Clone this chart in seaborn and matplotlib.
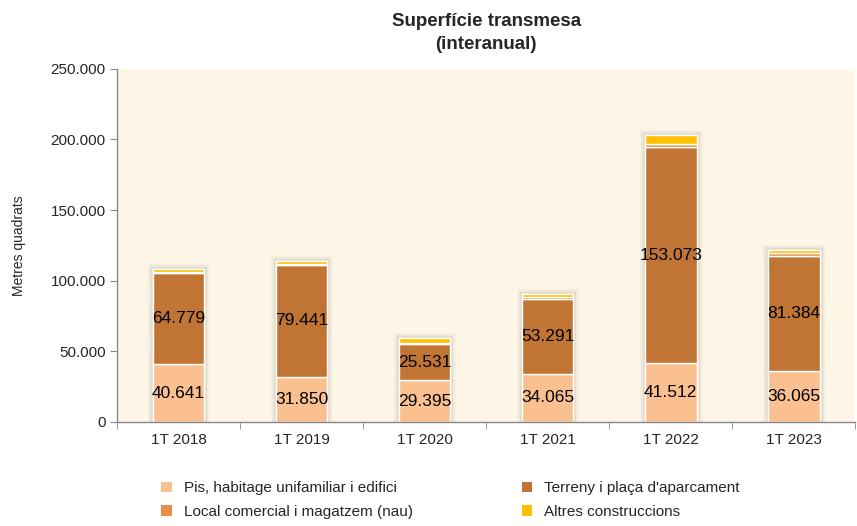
import numpy as np
import pandas as pd
import seaborn as sns
import matplotlib.pyplot as plt
import matplotlib.patheffects as pe
from matplotlib.patches import Patch
from matplotlib.ticker import FuncFormatter

# data
periods = ['1T 2018', '1T 2019', '1T 2020', '1T 2021', '1T 2022', '1T 2023']
pis = [40641, 31850, 29395, 34065, 41512, 36065]
terreny = [64779, 79441, 25531, 53291, 153073, 81384]
local = [600, 700, 700, 900, 2300, 1800]
altres = [1900, 1900, 3800, 2200, 6400, 2200]

series = [
    ('Pis, habitage unifamiliar i edifici', pis, '#FAC090'),
    ('Terreny i plaça d\'aparcament', terreny, '#C07535'),
    ('Local comercial i magatzem (nau)', local, '#E8904A'),
    ('Altres construccions', altres, '#FFC000'),
]

sns.set_style('white')
plt.rcParams['font.family'] = ['Liberation Sans', 'DejaVu Sans']

fig, ax = plt.subplots(figsize=(8.57, 5.26), dpi=100)
fig.subplots_adjust(left=0.1365, right=0.998, top=0.869, bottom=0.198)
ax.set_facecolor('#FDF5E6')

# soft glow behind each whole bar
totals = np.array(pis) + np.array(terreny) + np.array(local) + np.array(altres)
sns.barplot(x=periods, y=totals, ax=ax, color='white', width=0.42,
            edgecolor='white', linewidth=1, saturation=1, errorbar=None)
glow = [pe.Stroke(linewidth=8, foreground='black', alpha=0.025),
        pe.Stroke(linewidth=5.5, foreground='black', alpha=0.035),
        pe.Stroke(linewidth=3.5, foreground='black', alpha=0.05),
        pe.Normal()]
for p in ax.patches:
    p.set_path_effects(glow)

bottom = np.zeros(len(periods))
handles = {}
for name, vals, col in series:
    df = pd.DataFrame({'Periode': periods, 'm2': vals})
    sns.barplot(data=df, x='Periode', y='m2', ax=ax, color=col, width=0.42,
                bottom=bottom, edgecolor='white', linewidth=1,
                saturation=1, errorbar=None)
    handles[name] = Patch(facecolor=col, edgecolor='none')
    if name in ('Pis, habitage unifamiliar i edifici', 'Terreny i plaça d\'aparcament'):
        for i, v in enumerate(vals):
            lbl = f'{v:,}'.replace(',', '.')
            ax.text(i, bottom[i] + v / 2, lbl, ha='center', va='center',
                    fontsize=12.5, color='black', zorder=5)
    bottom = bottom + np.array(vals)

ax.set_ylim(0, 250000)
ax.set_xlim(-0.5, 5.5)
ax.set_yticks(range(0, 250001, 50000))
ax.yaxis.set_major_formatter(FuncFormatter(lambda v, _: f'{int(v):,}'.replace(',', '.') if v else '0'))
ax.set_xticks(np.arange(-0.5, 6, 1), minor=True)
ax.tick_params(axis='x', which='major', length=0, labelsize=11, pad=8)
ax.tick_params(axis='x', which='minor', length=5, color='#888888', direction='out')
ax.tick_params(axis='y', length=5, color='#888888', direction='out', labelsize=11, pad=3)
ax.xaxis.set_ticks_position('bottom')
ax.yaxis.set_ticks_position('left')

for s in ['top', 'right']:
    ax.spines[s].set_visible(False)
for s in ['left', 'bottom']:
    ax.spines[s].set_color('#888888')
    ax.spines[s].set_linewidth(1)

ax.set_xlabel('')
ax.set_ylabel('Metres quadrats', fontsize=10, labelpad=18)
ax.set_title('Superfície transmesa\n(interanual)', fontsize=13.5, fontweight='bold',
             pad=14, linespacing=1.5)

order = ['Pis, habitage unifamiliar i edifici', 'Local comercial i magatzem (nau)',
         'Terreny i plaça d\'aparcament', 'Altres construccions']
fig.legend([handles[k] for k in order], order, loc='lower left',
           bbox_to_anchor=(0.172, -0.012), ncol=2, frameon=False, fontsize=11,
           handlelength=0.7, handleheight=0.7, columnspacing=7.1,
           handletextpad=0.8, labelspacing=0.6)

plt.savefig('out.png', dpi=100)
